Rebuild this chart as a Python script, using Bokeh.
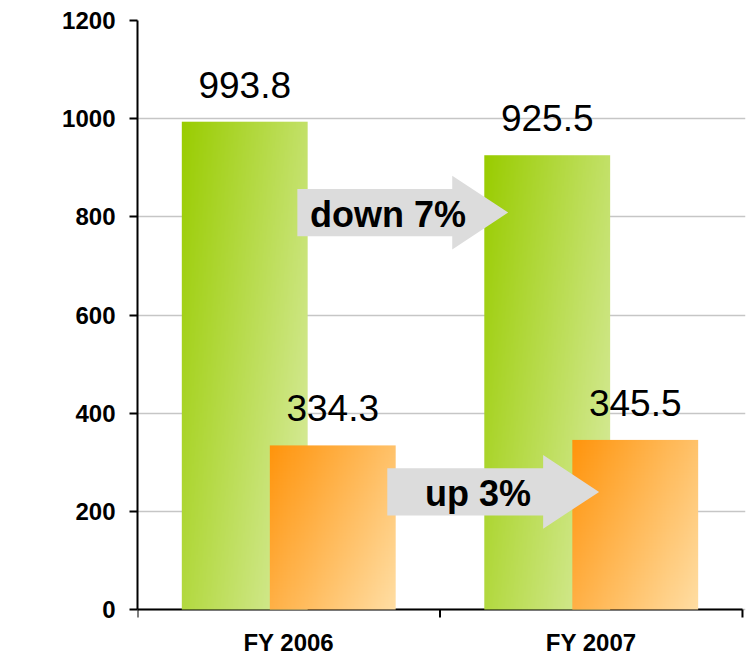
import numpy as np
from bokeh.plotting import figure
from bokeh.core.properties import value
from bokeh.models import Range1d, FixedTicker, ColumnDataSource, LabelSet, Label
from bokeh.embed import file_html
from bokeh.resources import INLINE

# Fiscal-year comparison of two series
years = ["FY 2006", "FY 2007"]
green_values = [993.8, 925.5]
orange_values = [334.3, 345.5]
changes = ["down 7%", "up 3%"]
y_ticks = [0, 200, 400, 600, 800, 1000, 1200]

FONT = "Liberation Sans"
BAR_W = 0.416        # bar width in category units
SHIFT = 0.1455       # offset of each bar from the category centre
PX_PER_UNIT = 589 / 1200
BOTTOM_PAD = 47 / PX_PER_UNIT   # room under the baseline for category names
TICK = 8 / PX_PER_UNIT

GREEN_START, GREEN_END = (153, 204, 0), (220, 237, 168)
ORANGE_START, ORANGE_END = (255, 148, 12), (255, 222, 164)


def gradient(c0, c1, nx=96, ny=240, wu=0.62, wv=0.38):
    """Diagonal gradient (top-left -> bottom-right) as an RGBA image."""
    u = np.linspace(0.0, 1.0, nx)[None, :]
    v = np.linspace(1.0, 0.0, ny)[:, None]   # row 0 is the bottom of the bar
    t = np.clip(wu * u + wv * v, 0.0, 1.0)
    img = np.empty((ny, nx), dtype=np.uint32)
    view = img.view(dtype=np.uint8).reshape((ny, nx, 4))
    for k in range(3):
        view[:, :, k] = np.round(c0[k] + (c1[k] - c0[k]) * t).astype(np.uint8)
    view[:, :, 3] = 255
    return img


n = len(years)
centers = [i + 0.5 for i in range(n)]

p = figure(width=750, height=656, x_range=Range1d(0, n + 0.01),
           y_range=Range1d(-BOTTOM_PAD, 1200),
           output_backend="svg", toolbar_location=None,
           min_border_left=137, min_border_right=5, min_border_top=20, min_border_bottom=0)
p.outline_line_color = None
p.background_fill_color = "white"
p.border_fill_color = "white"

# grid
p.xgrid.visible = False
p.ygrid.ticker = FixedTicker(ticks=y_ticks, minor_ticks=[])
p.ygrid.grid_line_color = "#C6C6C6"
p.ygrid.grid_line_width = 1.5

# y axis
yax = p.yaxis[0]
yax.ticker = FixedTicker(ticks=y_ticks, minor_ticks=[])
yax.bounds = (0, 1200)
yax.axis_line_color = "black"
yax.axis_line_width = 2
yax.major_tick_line_color = "black"
yax.major_tick_line_width = 2
yax.major_tick_out = 8
yax.major_tick_in = 0
yax.minor_tick_line_color = None
yax.major_label_text_font = FONT
yax.major_label_text_font_style = "bold"
yax.major_label_text_font_size = "24px"
yax.major_label_text_color = "black"
yax.major_label_standoff = 14

# category axis along y = 0: line, boundary ticks and names
p.xaxis.visible = False
bounds = list(range(n + 1))
p.segment(x0=[0], y0=[0], x1=[n], y1=[0], line_color="black", line_width=2)
p.segment(x0=bounds, y0=[0] * len(bounds), x1=bounds, y1=[-TICK] * len(bounds),
          line_color="black", line_width=2)
for c, name in zip(centers, years):
    p.add_layout(Label(x=c, y=0, y_offset=-33, text=name,
                       text_align="center", text_baseline="middle",
                       text_font=FONT, text_font_style="bold",
                       text_font_size="24px", text_color="black"))

# bars drawn as gradient-filled images
green_img = gradient(GREEN_START, GREEN_END)
orange_img = gradient(ORANGE_START, ORANGE_END)

green_x = [c - SHIFT for c in centers]
orange_x = [c + SHIFT for c in centers]

p.image_rgba(image=[green_img] * n,
             x=[x - BAR_W / 2 for x in green_x], y=[0] * n,
             dw=[BAR_W] * n, dh=green_values)
p.image_rgba(image=[orange_img] * n,
             x=[x - BAR_W / 2 for x in orange_x], y=[0] * n,
             dw=[BAR_W] * n, dh=orange_values)


# change arrows
def arrow(x0, x_neck, x_tip, y_mid, body_half=48, head_half=75):
    xs = [x0, x_neck, x_neck, x_tip, x_neck, x_neck, x0]
    ys = [y_mid + body_half, y_mid + body_half, y_mid + head_half, y_mid,
          y_mid - head_half, y_mid - body_half, y_mid - body_half]
    return xs, ys


arrow_specs = [(0.5285, 1.0405, 1.2254, 808.6), (0.8258, 1.3410, 1.5260, 239.6)]
for (x0, xn, xt, ym), txt in zip(arrow_specs, changes):
    xs, ys = arrow(x0, xn, xt, ym)
    p.patch(xs, ys, fill_color="#DCDCDC", line_color=None)
    p.add_layout(Label(x=x0 + 0.3, y=ym, y_offset=-2, text=txt,
                       text_align="center", text_baseline="middle",
                       text_font=FONT, text_font_style="bold",
                       text_font_size="36px", text_color="black"))

# value labels above each bar
labels = ColumnDataSource(data=dict(
    x=green_x + orange_x,
    y=green_values + orange_values,
    text=[f"{v:.1f}" for v in green_values + orange_values],
))
p.add_layout(LabelSet(x="x", y="y", text="text", source=labels, y_offset=24,
                      text_align="center", text_baseline="alphabetic",
                      text_font=value(FONT), text_font_size=value("37px"),
                      text_color="black"))

open("out.html", "w").write(file_html(p, INLINE))
